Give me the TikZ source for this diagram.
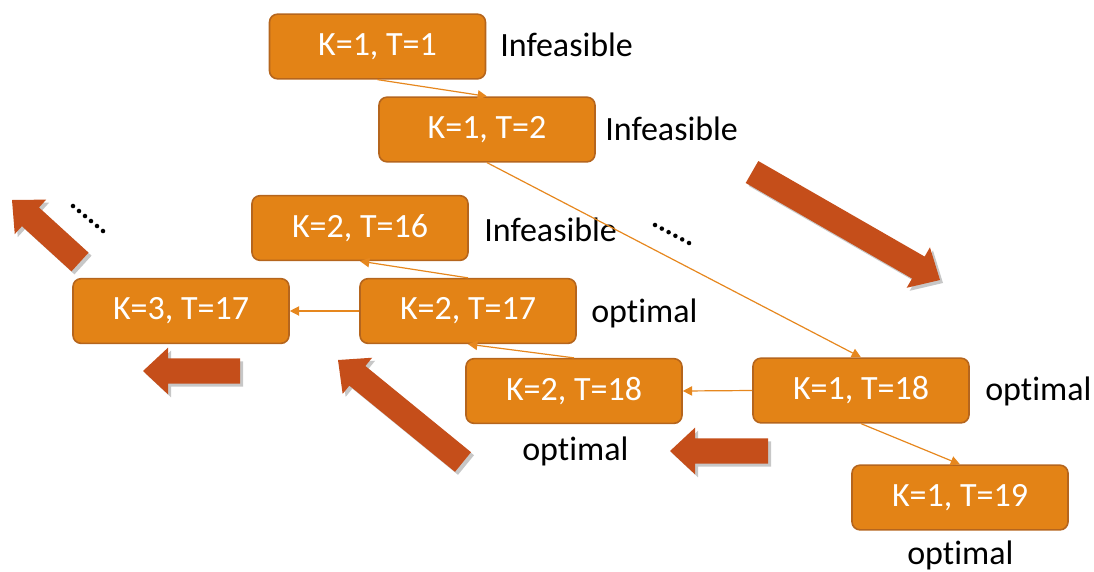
\documentclass[tikz,border=0pt]{standalone}
\usepackage{fontspec}
\setmainfont{Carlito}[Ligatures=NoCommon]
\usetikzlibrary{calc,arrows.meta}
\definecolor{boxfill}{RGB}{227,131,22}
\definecolor{boxedge}{RGB}{181,101,29}
\definecolor{bigred}{RGB}{197,78,26}
\definecolor{linkcol}{RGB}{230,135,30}
\tikzset{
 state/.style={draw=boxedge, fill=boxfill, line width=1.2pt, rounded corners=6pt,
   minimum width=162pt, minimum height=48.5pt, text=white,
   font=\fontsize{25.5}{30}\selectfont, inner sep=0pt},
 lbl/.style={font=\fontsize{25.5}{30}\selectfont, text=black, inner sep=0pt, anchor=base west},
 link/.style={draw=linkcol, line width=0.9pt, -{Triangle[length=7pt,width=7pt]}},
 bigfill/.style={fill=bigred},
 bigshadow/.style={fill=black, opacity=0.22},
 dotmark/.style={fill=black},
}
\newcommand\blockarrow[2]{%
 \path (#1) coordinate (ta) (#2) coordinate (tp);
 \path ($(tp)!18.75pt!(ta)$) coordinate (hb);
 \path ($(ta)!9.5pt!90:(tp)$) coordinate (p1)
       ($(hb)!9.5pt!90:(tp)$) coordinate (p2)
       ($(hb)!17.5pt!90:(tp)$) coordinate (p3)
       (tp) coordinate (p4)
       ($(hb)!17.5pt!-90:(tp)$) coordinate (p5)
       ($(hb)!9.5pt!-90:(tp)$) coordinate (p6)
       ($(ta)!9.5pt!-90:(tp)$) coordinate (p7);
 \fill[bigshadow] ($(p1)+(3,3)$) -- ($(p2)+(3,3)$) -- ($(p3)+(3,3)$) -- ($(p4)+(3,3)$)
   -- ($(p5)+(3,3)$) -- ($(p6)+(3,3)$) -- ($(p7)+(3,3)$) -- cycle;
 \fill[bigfill] (p1) -- (p2) -- (p3) -- (p4) -- (p5) -- (p6) -- (p7) -- cycle;
}
\begin{document}
\begin{tikzpicture}[x=0.75pt,y=-0.75pt]
\useasboundingbox (0,0) rectangle (1094,571);

% big arrows
\blockarrow{752,172}{940,280}
\blockarrow{80,262}{12,200}
\blockarrow{240,371}{143,371}
\blockarrow{463,462}{338,360}
\blockarrow{768,451}{670,451}

% states
\node[state] (n1) at (377.5,46.5) {K=1, T=1};
\node[state] (n2) at (487,129.5) {K=1, T=2};
\node[state] (n3) at (360,228) {K=2, T=16};
\node[state] (n4) at (181,311) {K=3, T=17};
\node[state] (n5) at (468,311) {K=2, T=17};
\node[state] (n6) at (574,391) {K=2, T=18};
\node[state] (n7) at (861,390.5) {K=1, T=18};
\node[state] (n8) at (960,497.5) {K=1, T=19};

% labels
\node[lbl] (l1) at (500,56) {Infeasible};
\node[lbl] (l2) at (605,140) {Infeasible};
\node[lbl] (l3) at (484,241) {Infeasible};
\node[lbl] (l5) at (591,322) {optimal};
\node[lbl] (l6) at (522,460) {optimal};
\node[lbl] (l7) at (985,400) {optimal};
\node[lbl] (l8) at (907,564) {optimal};

% connectors
\draw[link] (n1.south) -- (n2.north);
\draw[link] (n2.south) -- (n7.north);
\draw[link] (n5.north) -- (n3.south);
\draw[link] (n5.west) -- (n4.east);
\draw[link] (n6.north) -- (n5.south);
\draw[link] (n7.west) -- (n6.east);
\draw[link] (n7.south) -- (n8.north);

% dots
\foreach \i in {0,...,5} {
  \fill[dotmark] ($(655,225)!\i/5!(689,243)$) circle (1.7pt);
  \fill[dotmark] ($(73,206)!\i/5!(103,231)$) circle (1.7pt);
}
\end{tikzpicture}
\end{document}
